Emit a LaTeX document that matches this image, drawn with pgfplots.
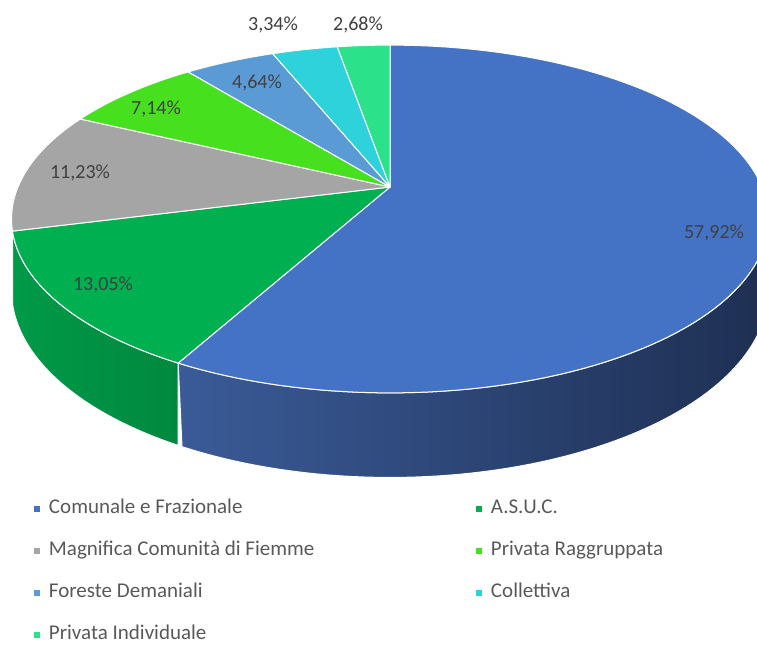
\documentclass[border=0pt]{standalone}
\usepackage{pgfplots}
\pgfplotsset{compat=1.18}
\usepackage{pgfplotstable}
\usepackage{fontspec}
\setmainfont{Carlito}
\definecolor{cBlue}{HTML}{4472C4}
\definecolor{cGreen}{HTML}{00B050}
\definecolor{cGray}{HTML}{A5A5A5}
\definecolor{cLime}{HTML}{46E01F}
\definecolor{cLBlue}{HTML}{5B9BD5}
\definecolor{cCyan}{HTML}{2ED2DB}
\definecolor{cMint}{HTML}{2BE28A}
\definecolor{sBlueL}{HTML}{3A5B98}
\definecolor{sBlueR}{HTML}{1E2F52}
\definecolor{sGreenL}{HTML}{009A48}
\definecolor{sGreenR}{HTML}{00883F}
\definecolor{sGray}{HTML}{858585}
\definecolor{labgray}{HTML}{404040}
\definecolor{leggray}{HTML}{595959}

\pgfplotstableread[col sep=comma]{
label,pct
Comunale e Frazionale,57.92
A.S.U.C.,13.05
Magnifica Comunità di Fiemme,11.23
Privata Raggruppata,7.14
Foreste Demaniali,4.64
Collettiva,3.34
Privata Individuale,2.68
}\piedata

% cumulative angles (degrees, clockwise from 12 o'clock)
\gdef\acc{0}
\foreach \i/\L in {0/A,1/B,2/C,3/D,4/E,5/F,6/G}{%
  \pgfplotstablegetelem{\i}{pct}\of\piedata
  \pgfmathsetmacro\tmpb{\acc+3.6*\pgfplotsretval}%
  \expandafter\xdef\csname s\L\endcsname{\acc}%
  \expandafter\xdef\csname e\L\endcsname{\tmpb}%
  \xdef\acc{\tmpb}%
}

\pgfplotsset{
  topface/.style={forget plot, draw=white, line width=1pt, samples=120, variable=\t, line join=round},
  sideface/.style={forget plot, draw=white, line width=1pt, domain=0:2, samples=401, variable=\t, line join=round},
}

\begin{document}
\begin{tikzpicture}[
  declare function={
    dd(\t)=1+0.184*cos(\t);
    PX(\t)=390+372*sin(\t)/dd(\t);
    PY(\t)=459+168*cos(\t)/dd(\t);
    PYB(\t)=PY(\t)-69/dd(\t);
    TH(\t,\a,\b)=(\t<=1) ? (\a+\t*(\b-\a)) : (\b-(\t-1)*(\b-\a));
  }]
\begin{axis}[
  width=757pt, height=646pt, scale only axis, at={(0,0)}, anchor=south west,
  xmin=0, xmax=757, ymin=0, ymax=646, hide axis,
  legend columns=2, legend cell align=left,
  legend image code/.code={\fill[#1, draw=none] (0pt,-3pt) rectangle (6pt,3pt);},
  legend style={draw=none, fill=none, inner sep=0pt, outer sep=0pt,
    at={(0.04491,0.22601)}, anchor=north west,
    font=\fontsize{21}{25}\selectfont, text=leggray,
    nodes={inner sep=0pt, outer sep=0pt, text height=14pt, text depth=4pt, anchor=west},
    /tikz/column sep=0pt,
    /tikz/every odd column/.append style={column sep=9pt},
    /tikz/row sep=24pt},
]
% ---- side faces ----
\addplot[sideface, left color=sBlueL, right color=sBlueR]
  ({PX(TH(\t,90,\eA))}, {(\t<=1) ? PY(TH(\t,90,\eA)) : PYB(TH(\t,90,\eA))}) -- cycle;
\addplot[sideface, fill=sGray]
  ({PX(TH(\t,\sC,270))}, {(\t<=1) ? PY(TH(\t,\sC,270)) : PYB(TH(\t,\sC,270))}) -- cycle;
\addplot[sideface, left color=sGreenL, right color=sGreenR]
  ({PX(TH(\t,\sB,\eB))}, {(\t<=1) ? PY(TH(\t,\sB,\eB)) : PYB(TH(\t,\sB,\eB))}) -- cycle;
% ---- top faces ----
\addplot[topface, fill=cBlue,  domain=\sA:\eA] ({PX(\t)},{PY(\t)}) -- (axis cs:390,459) -- cycle;
\addplot[topface, fill=cGreen, domain=\sB:\eB] ({PX(\t)},{PY(\t)}) -- (axis cs:390,459) -- cycle;
\addplot[topface, fill=cGray,  domain=\sC:\eC] ({PX(\t)},{PY(\t)}) -- (axis cs:390,459) -- cycle;
\addplot[topface, fill=cLime,  domain=\sD:\eD] ({PX(\t)},{PY(\t)}) -- (axis cs:390,459) -- cycle;
\addplot[topface, fill=cLBlue, domain=\sE:\eE] ({PX(\t)},{PY(\t)}) -- (axis cs:390,459) -- cycle;
\addplot[topface, fill=cCyan,  domain=\sF:\eF] ({PX(\t)},{PY(\t)}) -- (axis cs:390,459) -- cycle;
\addplot[topface, fill=cMint,  domain=\sG:\eG] ({PX(\t)},{PY(\t)}) -- (axis cs:390,459) -- cycle;
% ---- data labels ----
\addplot[forget plot, draw=none, mark=none, nodes near coords, point meta=explicit symbolic,
  nodes near coords align={center},
  every node near coord/.append style={anchor=center, font=\fontsize{20}{24}\selectfont, text=labgray}]
  coordinates {(714,413) [57,92\%] (103,361) [13,05\%] (80,473) [11,23\%] (156,537) [7,14\%]
               (257,563) [4,64\%] (273,621) [3,34\%] (358,621) [2,68\%]};
% ---- legend ----
\addlegendimage{fill=cBlue}\addlegendentry{\makebox[427pt][l]{Comunale e Frazionale}}
\addlegendimage{fill=cGreen}\addlegendentry{A.S.U.C.}
\addlegendimage{fill=cGray}\addlegendentry{\makebox[427pt][l]{Magnifica Comunità di Fiemme}}
\addlegendimage{fill=cLime}\addlegendentry{Privata Raggruppata}
\addlegendimage{fill=cLBlue}\addlegendentry{\makebox[427pt][l]{Foreste Demaniali}}
\addlegendimage{fill=cCyan}\addlegendentry{Collettiva}
\addlegendimage{fill=cMint}\addlegendentry{\makebox[427pt][l]{Privata Individuale}}
\end{axis}
\pgfresetboundingbox
\path (current axis.south west) rectangle (current axis.north east);
\end{tikzpicture}
\end{document}
